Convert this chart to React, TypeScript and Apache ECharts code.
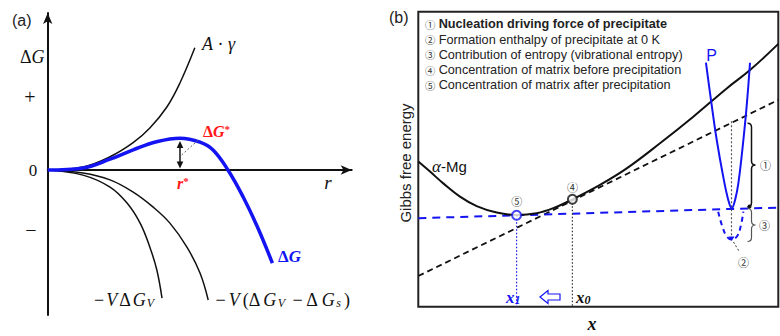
import React, { useEffect, useRef } from "react";
import * as echarts from "echarts";

// ---------- Panel (a): nucleation free energy (schematic) ----------
const surfaceTerm: [number, number][] = [
  [0, 0], [1.16, 0.1], [2.05, 0.44], [2.81, 0.91], [3.36, 1.4], [3.92, 2.1], [4.35, 2.9], [4.84, 4.07],
];
const totalDeltaG: [number, number][] = [
  [0, 0], [1.16, 0.07], [2.05, 0.36], [2.81, 0.67], [3.58, 0.94], [4.35, 1.06], [5.01, 0.93],
  [5.44, 0.67], [5.93, 0], [6.43, -0.9], [6.9, -1.9], [7.39, -3.1],
];
const volumeTerm: [number, number][] = [
  [0, 0], [1.16, -0.17], [2.05, -0.57], [2.61, -1.1], [3.04, -1.77], [3.36, -2.57], [3.59, -3.33], [3.76, -4.27],
];
const volumeStrainTerm: [number, number][] = [
  [0, 0], [1.16, -0.1], [2.05, -0.33], [2.8, -0.73], [3.46, -1.23], [4.02, -1.77], [4.58, -2.57], [5.01, -3.43], [5.28, -4.33],
];

// ---------- Panel (b): Gibbs free energy vs composition ----------
const alphaMg: [number, number][] = [
  [0, 4.92], [0.325, 4.58], [0.694, 4.18], [1.158, 3.73], [1.622, 3.41], [2.178, 3.19], [2.733, 3.11],
  [3.289, 3.17], [3.75, 3.34], [4.283, 3.64], [5.047, 4.13], [5.789, 4.69], [6.714, 5.54], [7.639, 6.44],
  [8.567, 7.4], [9.214, 8.02], [10, 8.91],
];
const tangentMatrix: [number, number][] = [[0, 1.04], [10, 7.01]];
const tangentAfter: [number, number][] = [[0, 3.0], [10, 3.36]];
const precipitate: [number, number][] = [
  [7.99, 8.27], [8.13, 7.01], [8.29, 5.65], [8.47, 4.41], [8.61, 3.62], [8.706, 3.33],
  [8.8, 3.62], [8.89, 4.18], [9.01, 5.42], [9.12, 6.78], [9.214, 8.27],
];
const precipitate0K: [number, number][] = [
  [8.33, 3.22], [8.45, 2.7], [8.57, 2.38], [8.706, 2.28], [8.85, 2.38], [8.95, 2.7], [9.03, 3.22],
];
const x1Drop: [number, number][] = [[2.73, 3.1], [2.73, 0]];
const x0Drop: [number, number][] = [[4.28, 3.64], [4.28, 0]];
const pDrop: [number, number][] = [[8.7, 6.29], [8.7, 2.3]];
const point5: [number, number][] = [[2.73, 3.1]];
const point4: [number, number][] = [[4.28, 3.64]];

const legendMarks = ["①", "②", "③", "④", "⑤"];
const legendLines = [
  "Nucleation driving force of precipitate",
  "Formation enthalpy of precipitate at 0 K",
  "Contribution of entropy (vibrational entropy)",
  "Concentration of matrix before precipitation",
  "Concentration of matrix after precipitation",
];

const BLUE = "#1414f2";
const RED = "#ff1818";
const SERIF = "'Liberation Serif', 'DejaVu Serif', serif";
const SANS = "'Liberation Sans', Arial, 'DejaVu Sans', sans-serif";
const CJK = "'Noto Sans CJK JP', 'Noto Sans CJK SC', 'DejaVu Sans', sans-serif";

function bracePath(x: number, y0: number, y1: number, w: number) {
  const m = (y0 + y1) / 2;
  return `M ${x - w} ${y0} Q ${x} ${y0} ${x} ${y0 + w} L ${x} ${m - w} Q ${x} ${m} ${x + w} ${m} Q ${x} ${m} ${x} ${m + w} L ${x} ${y1 - w} Q ${x} ${y1} ${x - w} ${y1}`;
}
echarts.graphic.registerShape("brace1", echarts.graphic.extendPath(bracePath(751.5, 123.3, 206.7, 4), {}));
echarts.graphic.registerShape("brace3", echarts.graphic.extendPath(bracePath(751.5, 208.5, 241.5, 4), {}));

const mathRich = (size: number, color: string, bold = false, pad = 0) => ({
  u: { fontFamily: SERIF, fontSize: size, fill: color, fontWeight: bold ? "bold" : "normal", padding: [0, pad, 0, pad] },
  i: { fontFamily: SERIF, fontSize: size, fill: color, fontStyle: "italic", fontWeight: bold ? "bold" : "normal", padding: [0, pad, 0, pad] },
  s: { fontFamily: SERIF, fontSize: Math.round(size * 0.68), fill: color, fontStyle: "italic", verticalAlign: "bottom", fontWeight: bold ? "bold" : "normal", padding: [0, pad, 0, 0] },
  p: { fontFamily: SERIF, fontSize: Math.round(size * 0.68), fill: color, verticalAlign: "top", fontWeight: bold ? "bold" : "normal" },
});

function txt(x: number, y: number, text: string, extra: any = {}) {
  return {
    type: "text",
    x,
    y,
    silent: true,
    z: 100,
    style: {
      text,
      fontFamily: SANS,
      fontSize: 12,
      fill: "#222",
      align: "left",
      verticalAlign: "middle",
      ...extra,
    },
  };
}

function lineSeries(data: [number, number][], grid: number, color: string, width: number, type: any = "solid", smooth: any = false) {
  return {
    type: "line",
    xAxisIndex: grid,
    yAxisIndex: grid,
    data,
    smooth,
    symbol: "none",
    silent: true,
    lineStyle: { color, width, type },
  };
}

export default function App() {
  const ref = useRef<HTMLDivElement>(null);
  useEffect(() => {
    if (!ref.current) return;
    const chart = echarts.init(ref.current, undefined, { renderer: "svg" });
    const axisArrow = {
      show: true,
      onZero: true,
      symbol: ["none", "arrow"],
      symbolSize: [7, 11],
      lineStyle: { color: "#111", width: 2 },
    };
    const hidden = { show: false };
    const legendGraphics = legendLines.map((t, k) =>
      txt(425, [24, 39.5, 54.5, 70, 85][k], `{c|${legendMarks[k]}} {t|${t}}`, {
        rich: {
          c: { fontFamily: CJK, fontSize: 10.3, fill: "#333", lineHeight: 12 },
          t: { fontFamily: SANS, fontSize: 12.7, fill: "#222", fontWeight: k === 0 ? "bold" : "normal", lineHeight: 13 },
        },
      })
    );
    const circled = { fontFamily: CJK, fontSize: 11, align: "center", fill: "#333", lineHeight: 12 };
    chart.setOption({
      animation: false,
      grid: [
        { left: 47.7, top: 13, width: 304, height: 302, show: false },
        { left: 418.3, top: 11.7, width: 360, height: 295, show: true, borderColor: "#222", borderWidth: 2, backgroundColor: "transparent" },
      ],
      xAxis: [
        { type: "value", gridIndex: 0, min: 0, max: 10, axisLine: axisArrow, axisTick: hidden, axisLabel: hidden, splitLine: hidden },
        { type: "value", gridIndex: 1, min: 0, max: 10, axisLine: hidden, axisTick: hidden, axisLabel: hidden, splitLine: hidden },
      ],
      yAxis: [
        { type: "value", gridIndex: 0, min: -4.83, max: 5.23, axisLine: axisArrow, axisTick: hidden, axisLabel: hidden, splitLine: hidden },
        { type: "value", gridIndex: 1, min: 0, max: 10, axisLine: hidden, axisTick: hidden, axisLabel: hidden, splitLine: hidden },
      ],
      series: [
        lineSeries(surfaceTerm, 0, "#111", 1.5, "solid", 0.4),
        lineSeries(volumeTerm, 0, "#111", 1.5, "solid", 0.4),
        lineSeries(volumeStrainTerm, 0, "#111", 1.5, "solid", 0.4),
        lineSeries(totalDeltaG, 0, BLUE, 3.5, "solid", 0.4),
        lineSeries(tangentMatrix, 1, "#111", 1.8, [6, 4]),
        lineSeries(tangentAfter, 1, BLUE, 2, [8, 6]),
        lineSeries(x1Drop, 1, BLUE, 1.2, [1.5, 2]),
        lineSeries(x0Drop, 1, "#333", 1.2, [1.5, 2]),
        lineSeries(pDrop, 1, "#555", 1.2, [2, 2]),
        lineSeries(alphaMg, 1, "#111", 2, "solid", 0.4),
        lineSeries(precipitate, 1, BLUE, 2, "solid", 0.4),
        lineSeries(precipitate0K, 1, BLUE, 2, [5, 4], 0.4),
        {
          type: "scatter", xAxisIndex: 1, yAxisIndex: 1, data: point5, symbol: "circle", symbolSize: 9, silent: true, z: 5,
          itemStyle: { color: "#fff", borderColor: BLUE, borderWidth: 2 },
        },
        {
          type: "scatter", xAxisIndex: 1, yAxisIndex: 1, data: point4, symbol: "circle", symbolSize: 9, silent: true, z: 5,
          itemStyle: { color: "#fff", borderColor: "#111", borderWidth: 2 },
        },
      ],
      graphic: [
        // panel (a)
        txt(12, 20, "(a)", { fontSize: 16, fill: "#222" }),
        txt(20, 57, "{u|Δ}{i|G}", { rich: mathRich(18, "#111") }),
        txt(30, 97, "+", { fontFamily: SERIF, fontSize: 20, align: "center", fill: "#111" }),
        txt(33, 170, "0", { fontFamily: SERIF, fontSize: 17, align: "center", fill: "#111" }),
        txt(31, 230, "−", { fontFamily: SERIF, fontSize: 20, align: "center", fill: "#111" }),
        txt(328, 182, "r", { fontFamily: SERIF, fontSize: 19, fontStyle: "italic", align: "center", fill: "#111" }),
        txt(202, 44, "{i|A}{u| · }{i|γ}", { rich: mathRich(18, "#111") }),
        txt(203, 131, "{u|Δ}{i|G}{p|*}", { rich: mathRich(16, RED, true) }),
        txt(177, 183, "{i|r}{p|*}", { rich: mathRich(16, RED, true) }),
        txt(278, 256, "{u|Δ}{i|G}", { rich: mathRich(17, BLUE, true) }),
        txt(93, 300, "{u|−}{i|V}{u|Δ}{i|G}{s|V}", { rich: mathRich(18, "#111", false, 1) }),
        txt(214, 300, "{u|−}{i|V}{u|(Δ}{i|G}{s|V}{u| − Δ}{i|G}{s|s}{u|)}", { rich: mathRich(18, "#111", false, 1.5) }),
        { type: "line", shape: { x1: 180, y1: 145, x2: 180, y2: 165 }, style: { stroke: "#111", lineWidth: 1.5 }, z: 100 },
        { type: "polygon", shape: { points: [[180, 141], [176.7, 148], [183.3, 148]] }, style: { fill: "#111" }, z: 100 },
        { type: "polygon", shape: { points: [[180, 168.5], [176.7, 161.5], [183.3, 161.5]] }, style: { fill: "#111" }, z: 100 },
        { type: "line", shape: { x1: 181.7, y1: 155, x2: 198.3, y2: 140 }, style: { stroke: "#666", lineWidth: 1, lineDash: [2, 2] }, z: 100 },
        // panel (b)
        txt(389, 17, "(b)", { fontSize: 16, fill: "#222" }),
        ...legendGraphics,
        {
          type: "text", x: 405, y: 163, rotation: Math.PI / 2, silent: true, z: 100,
          style: { text: "Gibbs free energy", fontFamily: SANS, fontSize: 15, fill: "#222", align: "center", verticalAlign: "middle" },
        },
        txt(432, 166, "{i|α}{m|-Mg}", { rich: { i: { fontFamily: SERIF, fontStyle: "italic", fontSize: 17, fill: "#111" }, m: { fontFamily: SANS, fontSize: 15, fill: "#111" } } }),
        txt(711.5, 55, "P", { fontSize: 16, fill: BLUE, align: "center" }),
        txt(516.7, 200.5, "⑤", circled),
        txt(572.5, 187, "④", circled),
        txt(765.5, 165, "①", circled),
        txt(764.5, 225, "③", circled),
        txt(743.5, 261.5, "②", circled),
        { type: "brace1", style: { stroke: "#111", fill: "none", lineWidth: 1.5 }, z: 100 },
        { type: "brace3", style: { stroke: "#555", fill: "none", lineWidth: 1.2 }, z: 100 },
        { type: "circle", shape: { cx: 749.5, cy: 206.5, r: 2 }, style: { fill: "#111" }, z: 100 },
        { type: "line", shape: { x1: 733.5, y1: 242, x2: 739.5, y2: 252 }, style: { stroke: "#333", lineWidth: 1, lineDash: [2, 2] }, z: 100 },
        { type: "polygon", shape: { points: [[731.7, 241], [728.5, 236.5], [734.5, 236.5]] }, style: { fill: BLUE }, z: 100 },
        txt(506, 297, "{i|x}{s|1}", { rich: mathRich(17, BLUE, true) }),
        txt(576, 297, "{i|x}{s|0}", { rich: mathRich(17, "#111", true) }),
        txt(592, 324, "x", { fontFamily: SERIF, fontSize: 18, fontStyle: "italic", fontWeight: "bold", align: "center", fill: "#111" }),
        {
          type: "polygon", z: 100,
          shape: { points: [[540, 297], [548, 290.5], [548, 294], [560, 294], [560, 300], [548, 300], [548, 303.5]] },
          style: { fill: "#fff", stroke: BLUE, lineWidth: 1.2 },
        },
      ],
    });
    return () => chart.dispose();
  }, []);
  return <div ref={ref} style={{ position: "fixed", left: 0, top: 0, width: 780, height: 336, background: "#fff" }} />;
}
